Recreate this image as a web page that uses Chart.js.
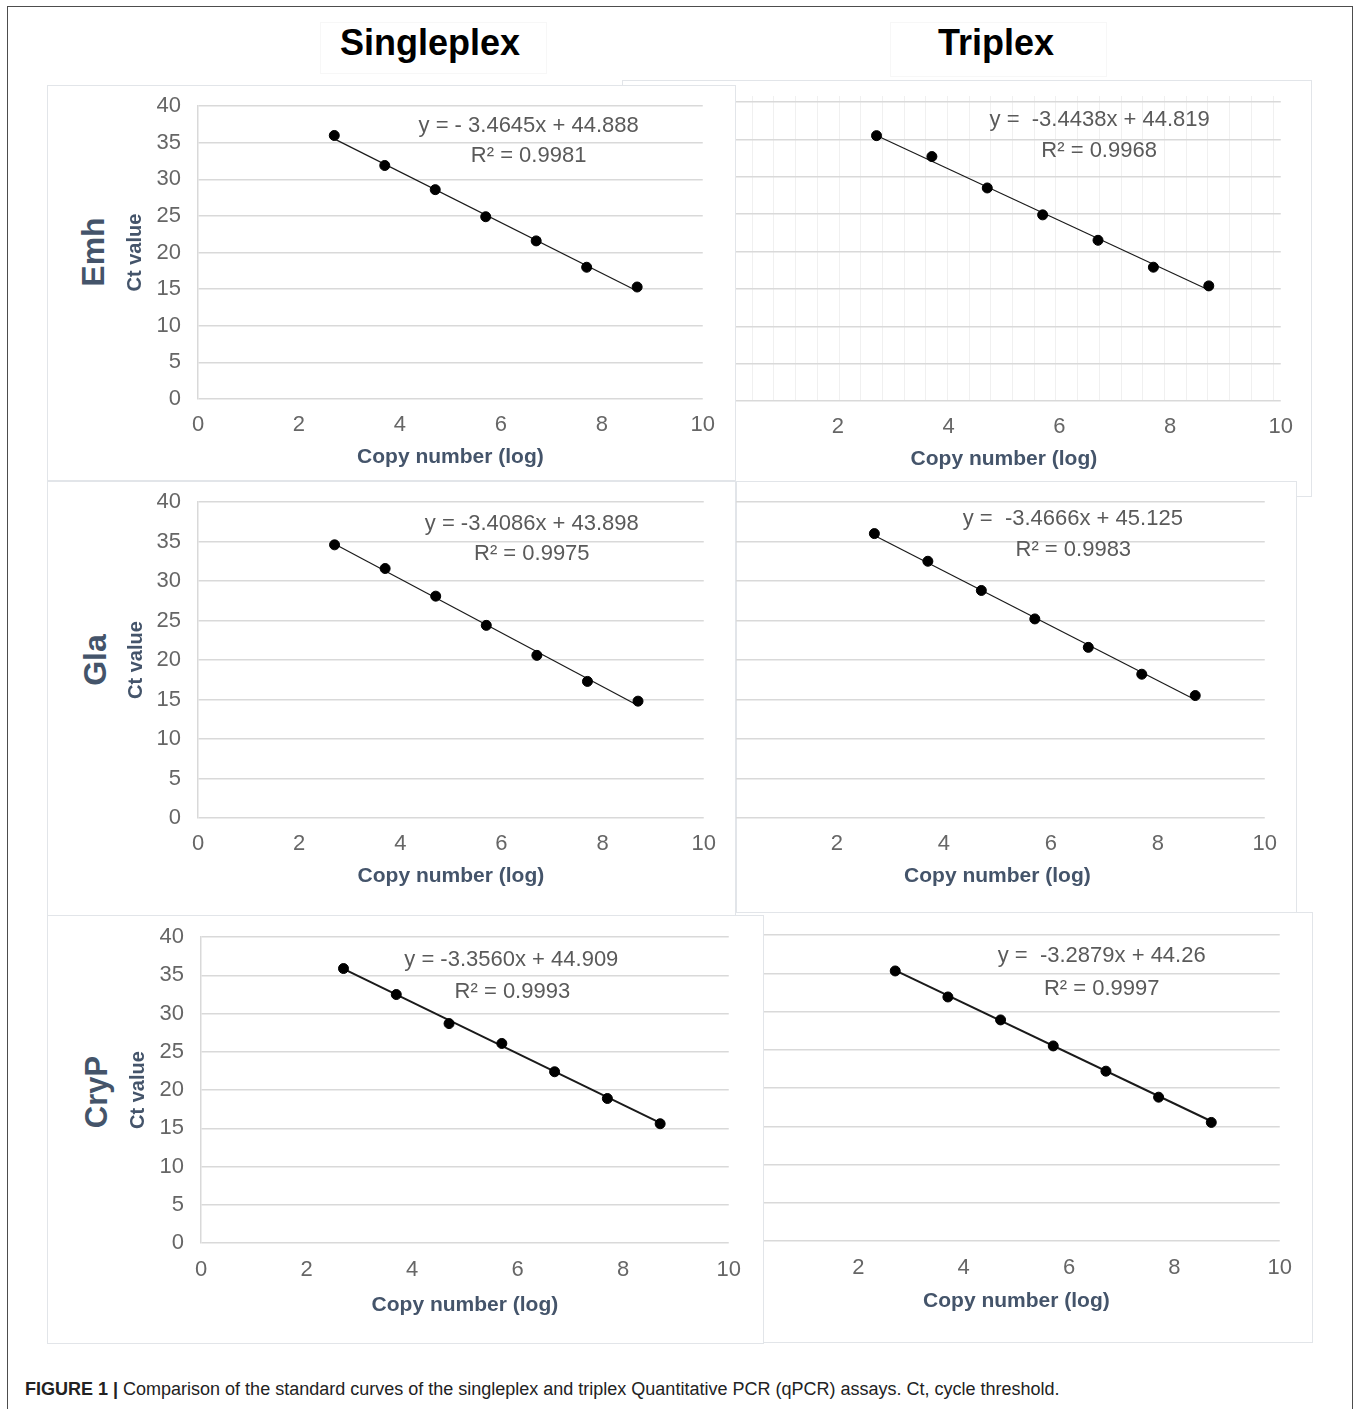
<!DOCTYPE html>
<html>
<head>
<meta charset="utf-8">
<script src="https://cdn.jsdelivr.net/npm/chart.js@4.4.1/dist/chart.umd.min.js"></script>
<style>
  body { margin: 0; width: 1357px; height: 1409px; overflow: hidden; background: #fff; position: relative;
         font-family: 'Liberation Sans', Arial, sans-serif; }
  .frame { position: absolute; left: 7px; top: 6px; width: 1346px; height: 1430px; border: 1.5px solid #4d4d4d; box-sizing: border-box; }
  .panel { position: absolute; background: #fff; border: 1px solid #e2e5e9; box-sizing: border-box; }
  .panel canvas { position: absolute; }
  .headbox { position: absolute; border: 1px solid #f7f7f7; }
  .head { position: absolute; transform: translate(-50%, -50%); font-weight: bold; font-size: 36px; color: #000; white-space: nowrap; }
  .row { position: absolute; transform: translate(-50%, -50%) rotate(-90deg); font-weight: bold; color: #44546a; white-space: nowrap; z-index: 20; }
  .cap { position: absolute; left: 25px; top: 1379px; font-size: 18px; color: #222; white-space: nowrap; transform-origin: left center; }
</style>
</head>
<body>
<div class="frame"></div>
<div class="headbox" style="left:320px;top:22px;width:225px;height:50px"></div>
<div class="headbox" style="left:890px;top:22px;width:215px;height:53px"></div>
<div class="head" style="left:430px;top:43px">Singleplex</div>
<div class="head" style="left:996px;top:43px">Triplex</div>
<div id="panels"></div>
<div class="row" style="left:93px;top:252px;font-size:32px">Emh</div>
<div class="row" style="left:95px;top:660px;font-size:32px">Gla</div>
<div class="row" style="left:97px;top:1092px;font-size:31px">CryP</div>
<div class="cap" id="cap"><b>FIGURE 1 |</b> Comparison of the standard curves of the singleplex and triplex Quantitative PCR (qPCR) assays. Ct, cycle threshold.</div>

<script>
// log copy number of the standards (same dilution series on every panel)
const copyLog = [2.7, 3.7, 4.7, 5.7, 6.7, 7.7, 8.7];

// Ct values
const emhSingle   = [36.0, 31.9, 28.6, 24.9, 21.6, 18.0, 15.3];
const emhTriplex  = [35.5, 32.7, 28.5, 24.9, 21.5, 17.9, 15.4];
const glaSingle   = [34.6, 31.6, 28.1, 24.4, 20.6, 17.3, 14.8];
const glaTriplex  = [36.0, 32.5, 28.8, 25.2, 21.6, 18.2, 15.5];
const crypSingle  = [35.9, 32.5, 28.7, 26.1, 22.4, 18.9, 15.6];
const crypTriplex = [35.3, 31.9, 28.9, 25.5, 22.2, 18.8, 15.5];

// trend lines as printed on the panels
const slopes     = [-3.4645, -3.4438, -3.4086, -3.4666, -3.3560, -3.2879];
const intercepts = [44.888, 44.819, 43.898, 45.125, 44.909, 44.26];
const eqTexts = ['y = - 3.4645x + 44.888', 'y =  -3.4438x + 44.819', 'y = -3.4086x + 43.898',
                 'y =  -3.4666x + 45.125', 'y = -3.3560x + 44.909', 'y =  -3.2879x + 44.26'];
const r2Texts = ['R² = 0.9981', 'R² = 0.9968', 'R² = 0.9975', 'R² = 0.9983', 'R² = 0.9993', 'R² = 0.9997'];

const xTitle = 'Copy number (log)';
const yTitle = 'Ct value';

// panel layout: box = white frame, area = plot area [L,T,R,B]
const panels = [
  { values: emhTriplex,  idx: 1, single: false, box: [622, 80, 1312, 497],  area: [727, 102, 1281, 401], yW: 40, tickPad: 5, titleOff: 58, lineW: 1.2, eqAt: [6.73, 37.55], r2At: [6.72, 33.4], cells: true },
  { values: crypTriplex, idx: 5, single: false, box: [598, 912, 1313, 1343], area: [753, 935, 1280, 1241], yW: 40, tickPad: 6, titleOff: 60.7, lineW: 2, eqAt: [6.62, 37.25], r2At: [6.62, 33.0] },
  { values: glaTriplex,  idx: 3, single: false, box: [736, 481, 1297, 913],  area: [730, 502, 1265, 818], yW: 40, tickPad: 5, titleOff: 58.5, lineW: 1.2, eqAt: [6.41, 37.8], r2At: [6.42, 33.97] },
  { values: emhSingle,   idx: 0, single: true,  box: [47, 85, 736, 481],     area: [198, 106, 703, 399], yW: 75, tickPad: 5, titleOff: 58, lineW: 1.2, eqAt: [6.55, 37.3], r2At: [6.55, 33.2] },
  { values: glaSingle,   idx: 2, single: true,  box: [47, 481, 736, 916],    area: [198, 502, 704, 818], yW: 74, tickPad: 5, titleOff: 58.7, lineW: 1.2, eqAt: [6.6, 37.3], r2At: [6.6, 33.5] },
  { values: crypSingle,  idx: 4, single: true,  box: [47, 915, 764, 1344],   area: [201, 937, 729, 1243], yW: 75, tickPad: 6, titleOff: 62, lineW: 2, eqAt: [5.88, 37.0], r2At: [5.9, 32.9] }
];

const FONT = "'Liberation Sans', Arial, sans-serif";
Chart.defaults.font.family = FONT;

const eqPlugin = {
  id: 'eqLabel',
  beforeDraw(chart, args, o) {
    if (!o.cells) return;
    const { ctx, chartArea: a } = chart;
    ctx.save();
    ctx.strokeStyle = 'rgba(0,0,0,0.06)';
    ctx.lineWidth = 1;
    for (let x = a.left + 24.7; x < a.right; x += 21.7) {
      ctx.beginPath();
      ctx.moveTo(Math.round(x) + 0.5, a.top - 16);
      ctx.lineTo(Math.round(x) + 0.5, a.bottom);
      ctx.stroke();
    }
    ctx.restore();
  },
  afterDatasetsDraw(chart, args, o) {
    const { ctx, scales: { x, y } } = chart;
    ctx.save();
    ctx.font = '22px ' + FONT;
    ctx.fillStyle = '#5a5a5a';
    ctx.textAlign = 'center';
    ctx.textBaseline = 'middle';
    ctx.fillText(o.eq, x.getPixelForValue(o.eqAt[0]), y.getPixelForValue(o.eqAt[1]));
    ctx.fillText(o.r2, x.getPixelForValue(o.r2At[0]), y.getPixelForValue(o.r2At[1]));
    ctx.restore();
  }
};

function config(p, xH) {
  const pts = copyLog.map((x, k) => ({ x: x, y: p.values[k] }));
  const x0 = copyLog[0], x1 = copyLog[copyLog.length - 1];
  const trend = [
    { x: x0, y: slopes[p.idx] * x0 + intercepts[p.idx] },
    { x: x1, y: slopes[p.idx] * x1 + intercepts[p.idx] }
  ];
  return {
    type: 'scatter',
    data: {
      datasets: [
        { data: trend, showLine: true, borderColor: '#1a1a1a', borderWidth: p.lineW, pointRadius: 0, order: 2 },
        { data: pts, backgroundColor: '#000', borderColor: '#000', pointRadius: 5, order: 1 }
      ]
    },
    options: {
      responsive: false,
      animation: false,
      layout: { padding: 0 },
      plugins: {
        legend: { display: false },
        tooltip: { enabled: false },
        eqLabel: { eq: eqTexts[p.idx], r2: r2Texts[p.idx], eqAt: p.eqAt, r2At: p.r2At, cells: !!p.cells }
      },
      scales: {
        x: {
          type: 'linear', min: 0, max: 10,
          ticks: { stepSize: 2, padding: p.tickPad, color: '#666', font: { size: 22 } },
          grid: { display: false },
          border: { display: false },
          title: { display: true, text: xTitle, color: '#44546a', font: { size: 21, weight: 'bold' }, padding: 0 },
          afterFit: function(s) { s.height = xH; }
        },
        y: {
          min: 0, max: 40,
          ticks: { display: p.single, stepSize: 5, padding: 17, color: '#666', font: { size: 22 } },
          grid: { color: '#d9d9d9', lineWidth: 1.5, drawTicks: false },
          border: { display: p.single, color: '#d9d9d9', width: 1.5 },
          title: { display: p.single, text: yTitle, color: '#44546a', font: { size: 20, weight: 'bold' }, padding: 0 },
          afterFit: function(s) { s.width = p.yW; }
        }
      }
    },
    plugins: [eqPlugin]
  };
}

const host = document.getElementById('panels');
panels.forEach(function(p, i) {
  const [bl, bt, br, bb] = p.box;
  const [L, T, R, B] = p.area;
  const xH = Math.round(p.titleOff + 12.6);

  const box = document.createElement('div');
  box.className = 'panel';
  box.style.cssText = `left:${bl}px;top:${bt}px;width:${br - bl}px;height:${bb - bt}px;z-index:${i + 1}`;
  host.appendChild(box);

  const cv = document.createElement('canvas');
  box.appendChild(cv);

  // first pass: see how much room Chart.js keeps around the plot area
  let cl = L - p.yW, ct = T, cw = p.yW + (R - L), ch = (B - T) + xH;
  cv.width = cw; cv.height = ch;
  let chart = new Chart(cv, config(p, xH));
  const a = chart.chartArea;
  const dl = a.left - p.yW, dt = a.top, dr = cw - a.right, db = (B - T) - a.bottom;
  chart.destroy();

  // second pass: grow the canvas so the plot area lands on the target box
  cl -= dl; ct -= dt; cw += dl + dr; ch += dt + db;
  cv.width = cw; cv.height = ch;
  cv.style.width = cw + 'px'; cv.style.height = ch + 'px';
  cv.style.left = (cl - bl - 1) + 'px';
  cv.style.top = (ct - bt - 1) + 'px';
  new Chart(cv, config(p, xH));
});

// caption is set in a condensed face in the original, squeeze it to the same width
const cap = document.getElementById('cap');
const w = cap.getBoundingClientRect().width;
cap.style.transform = 'scaleX(' + (1035 / w).toFixed(3) + ')';
</script>
</body>
</html>
